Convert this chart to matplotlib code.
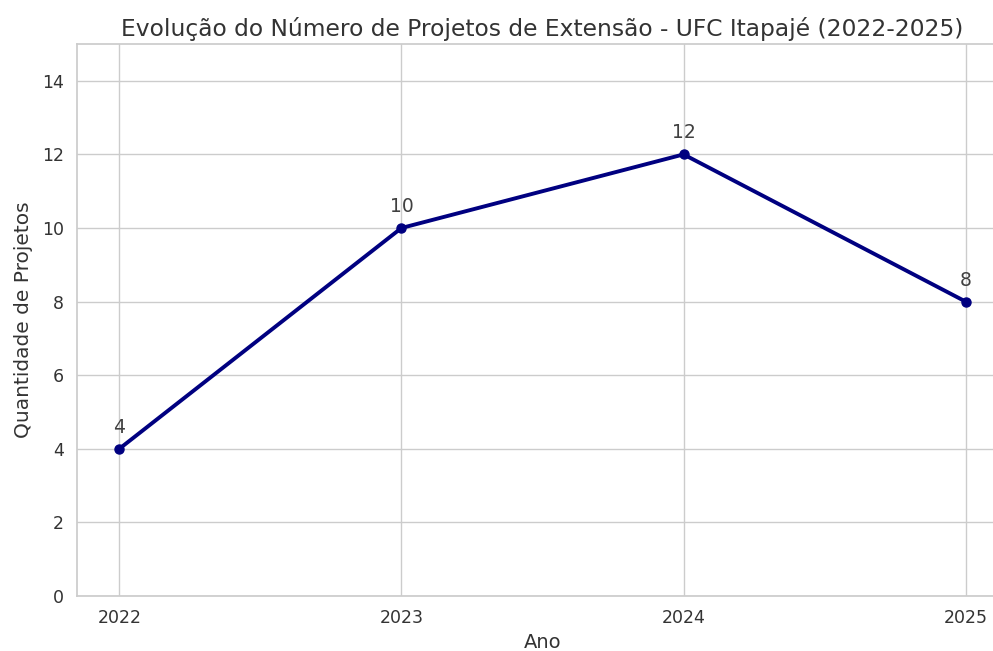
import matplotlib
matplotlib.use("Agg")
import matplotlib.pyplot as plt
import seaborn as sns

anos = [2022, 2023, 2024, 2025]
projetos = [4, 10, 12, 8]

sns.set_theme(style="whitegrid")
plt.rcParams['font.family'] = ['DejaVu Sans']

fig = plt.figure(figsize=(9.93, 6.51), dpi=100)
# axes deliberately run a bit past the right edge, like the cropped original
ax = fig.add_axes([77 / 993, 55 / 651, 931 / 993, 552 / 651])

ax.plot(anos, projetos, color="navy", linewidth=2.8, marker="o", markersize=6.5)

for x, y in zip(anos, projetos):
    ax.annotate(str(y), (x, y), textcoords="offset points", xytext=(0, 11.5),
                ha="center", fontsize=13.5, color="0.25")

ax.set_xticks(anos)
ax.set_xticklabels([str(a) for a in anos])
ax.set_ylim(0, 15)
ax.set_yticks(range(0, 15, 2))
ax.tick_params(labelsize=12.5, colors="0.2")
ax.set_title("Evolução do Número de Projetos de Extensão - UFC Itapajé (2022-2025)",
             fontsize=16.8, color="0.2", pad=6)
ax.set_xlabel("Ano", fontsize=14, color="0.2", labelpad=4)
ax.set_ylabel("Quantidade de Projetos", fontsize=14.5, color="0.2", labelpad=6)

fig.savefig("out.png", dpi=100)
